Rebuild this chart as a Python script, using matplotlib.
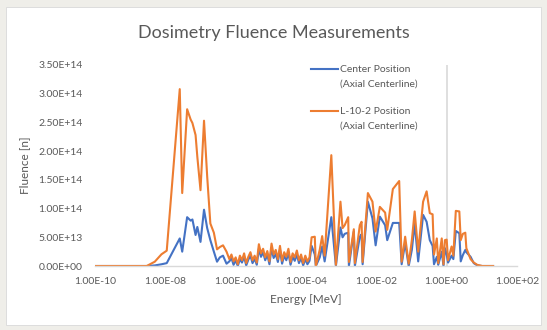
import numpy as np
import matplotlib.pyplot as plt
from matplotlib.lines import Line2D
from matplotlib.patches import Rectangle
from matplotlib.ticker import FuncFormatter

plt.rcParams['font.family'] = ['Lato', 'DejaVu Sans']

# log10 of bin energy [MeV]
log_energy = [
    -10.0, -9.5, -9.0, -8.53, -8.30, -8.11, -7.96, -7.59, -7.52, -7.38,
    -7.28, -7.23, -7.14, -7.09, -7.00, -6.90, -6.81, -6.72, -6.62, -6.53,
    -6.45, -6.36, -6.26,
    -6.18, -6.12, -6.06, -6.00, -5.94, -5.88, -5.82, -5.76, -5.70, -5.64,
    -5.58, -5.52, -5.46, -5.40, -5.34, -5.28, -5.22, -5.16, -5.10, -5.04,
    -4.98, -4.92, -4.86, -4.80, -4.74, -4.68, -4.62, -4.56, -4.50, -4.44,
    -4.38, -4.32, -4.26, -4.20, -4.14, -4.08, -4.02, -3.96, -3.90,
    -3.84, -3.75, -3.72, -3.61, -3.54, -3.47, -3.28, -3.15, -3.02, -2.96,
    -2.90, -2.80, -2.78, -2.64, -2.61, -2.47, -2.42, -2.39, -2.24, -2.11,
    -2.02, -1.90, -1.75, -1.69, -1.53, -1.35, -1.28, -1.18, -1.08, -0.99,
    -0.91, -0.81, -0.67, -0.57, -0.48, -0.40, -0.36, -0.28, -0.24, -0.14,
    -0.09, -0.05, 0.00, 0.04, 0.14, 0.19, 0.26, 0.36, 0.40, 0.46,
    0.53, 0.56, 0.68, 0.77, 0.87, 1.01, 1.20, 1.32,
]

# fluence, units of 1e13 n
center = [
    0, 0, 0, 0, 0.1, 0.3, 0.5, 4.8, 2.5, 8.5,
    7.9, 8.1, 5.4, 6.8, 4.2, 9.8, 6.6, 4.5, 2.5, 0.75,
    1.5, 1.8, 0.4,
    0.8, 1.4, 0.2, 1.0, 0.0, 1.2, 0.6, 1.6, 0.1, 1.1,
    1.8, 0.5, 1.3, 0.2, 3.0, 1.6, 2.4, 1.0, 2.0, 0.3,
    3.1, 1.4, 2.1, 0.7, 2.8, 0.4, 1.8, 1.0, 2.3, 0.2,
    1.6, 0.9, 2.0, 0.5, 1.4, 0.1, 1.2, 0.3, 0.9,
    3.5, 2.0, 0.0, 1.5, 3.4, 0.8, 8.5, 0.0, 6.7, 5.0,
    5.6, 5.8, 0.0, 6.0, 0.0, 5.1, 5.5, 0.3, 11.2, 8.3,
    3.6, 8.6, 7.1, 4.5, 7.5, 7.5, 0.3, 4.0, 0.0, 2.8,
    7.4, 0.8, 8.9, 7.7, 4.5, 3.5, 0.3, 1.6, 0.2, 2.5,
    0.0, 3.1, 2.0, 0.6, 1.8, 1.2, 6.1, 5.7, 0.8, 1.9,
    2.8, 2.4, 1.6, 0.5, 0.1, 0.0, 0.0, 0.0,
]

l10_2 = [
    0, 0, 0, 0, 0.75, 2.04, 2.67, 30.8, 12.7, 27.3,
    25.5, 24.9, 22.8, 19.0, 13.2, 25.3, 15.6, 7.4, 5.8, 2.9,
    3.3, 3.6, 2.5,
    1.2, 2.0, 0.8, 1.5, 0.3, 1.8, 1.0, 2.2, 0.5, 1.6,
    2.4, 1.0, 1.8, 0.6, 3.8, 2.2, 3.0, 1.5, 2.6, 0.8,
    3.9, 2.0, 2.8, 1.2, 3.5, 0.9, 2.4, 1.6, 3.0, 0.7,
    2.2, 1.5, 2.7, 1.0, 2.0, 0.5, 1.8, 0.8, 1.5,
    5.0, 5.1, 0.0, 2.8, 5.2, 1.8, 19.3, 0.2, 11.2, 6.6,
    7.1, 8.5, 0.7, 6.4, 0.5, 7.1, 7.7, 0.7, 12.7, 11.2,
    6.0, 10.3, 9.3, 6.3, 13.4, 14.8, 0.75, 5.1, 0.4, 4.5,
    9.5, 2.5, 11.2, 13.0, 9.2, 9.0, 2.0, 4.8, 0.5, 4.8,
    0.3, 4.5, 4.6, 1.0, 3.4, 1.8, 9.6, 9.5, 4.5, 5.6,
    5.8, 3.1, 1.2, 0.6, 0.2, 0.0, 0.0, 0.0,
]

energy = 10.0 ** np.array(log_energy)
center = np.array(center) * 1e13
l10_2 = np.array(l10_2) * 1e13

W, H = 547, 330
fig = plt.figure(figsize=(W / 100, H / 100), dpi=100)
fig.patch.set_facecolor('#efeee9')
fig.add_artist(Rectangle((6 / W, 5 / H), 1 - 12 / W, 1 - 12 / H,
                         transform=fig.transFigure, facecolor='white',
                         edgecolor='#d9d9d9', linewidth=0.6, zorder=0))

ax = fig.add_axes([95 / W, 1 - 266 / H, (517 - 95) / W, (266 - 65) / H])
ax.set_facecolor('none')

blue = '#4472c4'
orange = '#ed7d31'
ax.plot(energy, center, color=blue, lw=1.5, solid_joinstyle='round')
ax.plot(energy, l10_2, color=orange, lw=1.5, solid_joinstyle='round')

ax.set_xscale('log')
ax.set_xlim(1e-10, 1e2)
ax.set_ylim(0, 3.5e14)
ax.set_xticks([1e-10, 1e-8, 1e-6, 1e-4, 1e-2, 1e0, 1e2])
ax.set_xticks([], minor=True)
ax.set_yticks(np.arange(0, 3.51e14, 5e13))
fmt = FuncFormatter(lambda v, pos: '{:.2E}'.format(v))
ax.xaxis.set_major_formatter(fmt)
ax.yaxis.set_major_formatter(fmt)
ax.tick_params(length=0, labelsize=7.5, labelcolor='#595959')
ax.tick_params(axis='x', pad=8)
ax.tick_params(axis='y', pad=9)

for s in ['top', 'right', 'left']:
    ax.spines[s].set_visible(False)
ax.spines['bottom'].set_color('#d9d9d9')
ax.spines['bottom'].set_linewidth(1.0)
ax.axvline(1.0, color='#d9d9d9', lw=1.2, zorder=0)

ax.set_xlabel('Energy [MeV]', fontsize=8.5, color='#595959', labelpad=6)
ax.set_ylabel('Fluence [n]', fontsize=8.5, color='#595959', labelpad=6)
fig.text(0.5, 1 - 33 / H, 'Dosimetry Fluence Measurements', ha='center',
         va='center', fontsize=13, color='#595959')

# legend drawn by hand so the marker sits on the first text line
entries = [(blue, 'Center Position', 69), (orange, 'L-10-2 Position', 111)]
for col, name, yp in entries:
    y1 = 1 - yp / H
    y2 = 1 - (yp + 15) / H
    fig.add_artist(Line2D([311 / W, 338 / W], [y1, y1], color=col, lw=1.5,
                          transform=fig.transFigure))
    fig.text(340 / W, y1, name, va='center', ha='left', fontsize=7.5,
             color='#595959')
    fig.text(340 / W, y2, '(Axial Centerline)', va='center', ha='left',
             fontsize=7.5, color='#595959')

fig.savefig('out.png', dpi=100, facecolor=fig.get_facecolor())
